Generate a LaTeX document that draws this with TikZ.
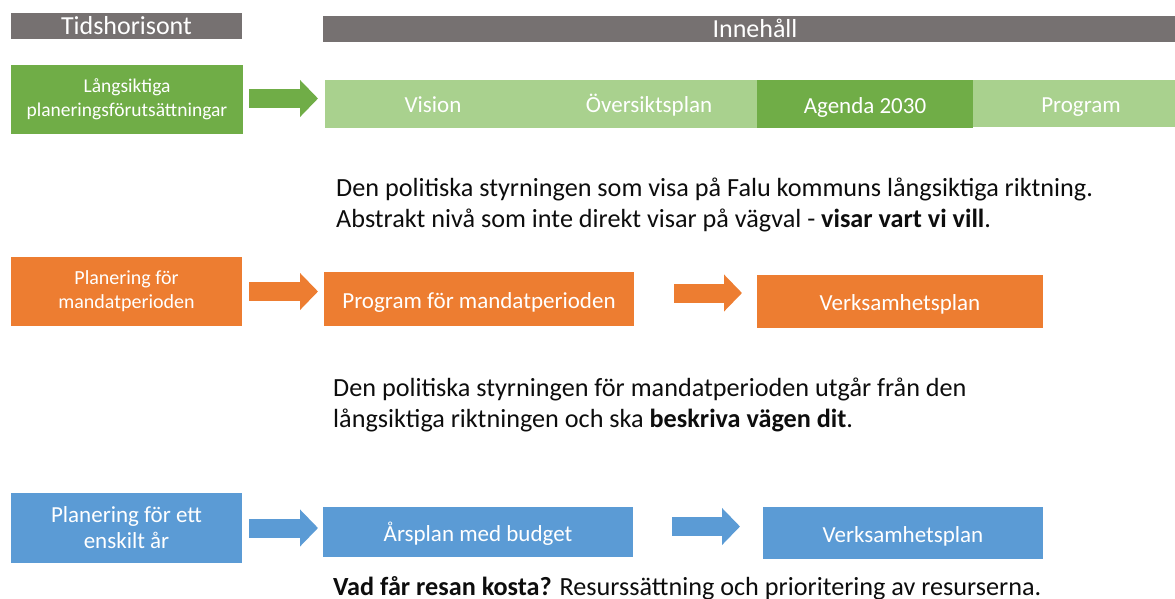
\documentclass[tikz,border=0pt]{standalone}
\usepackage{fontspec}
\setmainfont{Carlito}
\usetikzlibrary{arrows.meta}
\definecolor{hdgray}{HTML}{767171}
\definecolor{ltgreen}{HTML}{A9D18E}
\definecolor{dkgreen}{HTML}{70AD47}
\definecolor{plorange}{HTML}{ED7D31}
\definecolor{plblue}{HTML}{5B9BD5}
\definecolor{bodytext}{HTML}{0D0D0D}
\begin{document}
\begin{tikzpicture}[x=1pt,y=-1pt,
	box/.style={anchor=north west,inner sep=0pt,outer sep=0pt,text=white,text height=20pt,text depth=2pt,font=\fontsize{23}{27}\selectfont},
	side/.style={anchor=north west,inner sep=0pt,outer sep=0pt,text=white,align=center,minimum width=231pt,minimum height=69pt,font=\fontsize{19.5}{24}\selectfont},
	head/.style={box,fill=hdgray,minimum height=26pt,text height=18pt,text depth=1pt,font=\fontsize{26}{30}\selectfont},
	cell/.style={box,minimum width=216pt,minimum height=47pt},
	fat/.style={line width=19pt,-{Triangle[length=18pt,width=36pt]}},
	body/.style={anchor=base west,inner sep=0pt,align=left,text=bodytext,font=\fontsize{26.2}{31}\selectfont}]
	\useasboundingbox (0,0) rectangle (1175,598);
	% Headings
	\node [head,minimum width=231pt] (tid) at (11,13) {Tidshorisont};
	\node [head,minimum width=864pt] (innehall) at (323,16) {Innehåll};
	% Long term row GREEN
	\node [side,fill=dkgreen,minimum width=232pt] (lang) at (11,65) {Långsiktiga\\planeringsförutsättningar};
	\node [cell,fill=ltgreen,draw=ltgreen,line width=0.6pt] (vision) at (325,80) {Vision};
	\node [cell,fill=ltgreen,draw=ltgreen,line width=0.6pt] (oversikt) at (vision.north east) {Översiktsplan};
	\node [cell,fill=dkgreen,minimum height=48pt] (agenda) at (oversikt.north east) {Agenda 2030};
	\node [cell,fill=ltgreen] (program) at (agenda.north east) {Program};
		\draw [fat,dkgreen,shorten <=6pt,shorten >=7pt] ([yshift=1pt]lang.east) -- ([yshift=1pt]lang.east -| vision.west);
	\node [body] (visar) at (336,227) {Den politiska styrningen som visa på Falu kommuns långsiktiga riktning.\\Abstrakt nivå som inte direkt visar på vägval - \textbf{visar vart vi vill}.};
	% Mandate period row ORANGE
	\node [side,fill=plorange,font=\fontsize{20}{24}\selectfont] (mandat) at (11,257) {Planering för\\mandatperioden};
	\node [box,fill=plorange,minimum width=310pt,minimum height=54pt] (progmandat) at (324,272) {Program för mandatperioden};
	\node [box,fill=plorange,minimum width=286pt,minimum height=53pt] (verkmandat) at (757,275) {Verksamhetsplan};
		\draw [fat,plorange,shorten <=7pt,shorten >=6pt] (mandat.east) -- (mandat.east -| progmandat.west);
		\draw [fat,plorange,shorten <=40pt,shorten >=15pt] ([yshift=6pt]progmandat.east) -- ([yshift=6pt]progmandat.east -| verkmandat.west);
	\node [body] (vagen) at (333,427) {Den politiska styrningen för mandatperioden utgår från den\\långsiktiga riktningen och ska \textbf{beskriva vägen dit}.};
	% One year row BLUE
	\node [side,fill=plblue,minimum height=70pt,font=\fontsize{23}{26}\selectfont] (enskilt) at (11,493) {Planering för ett\\enskilt år};
	\node [box,fill=plblue,minimum width=310pt,minimum height=50pt] (arsplan) at (323,507) {Årsplan med budget};
	\node [box,fill=plblue,minimum width=280pt,minimum height=52pt] (verkar) at (763,507) {Verksamhetsplan};
		\draw [fat,plblue,shorten <=7pt,shorten >=5pt] (enskilt.east) -- (enskilt.east -| arsplan.west);
		\draw [fat,plblue,shorten <=39pt,shorten >=23pt] ([yshift=5.5pt]arsplan.east) -- ([yshift=5.5pt]arsplan.east -| verkar.west);
	\node [body] (kosta) at (333,595) {\textbf{Vad får resan kosta?} Resurssättning och prioritering av resurserna.};
\end{tikzpicture}
\end{document}
